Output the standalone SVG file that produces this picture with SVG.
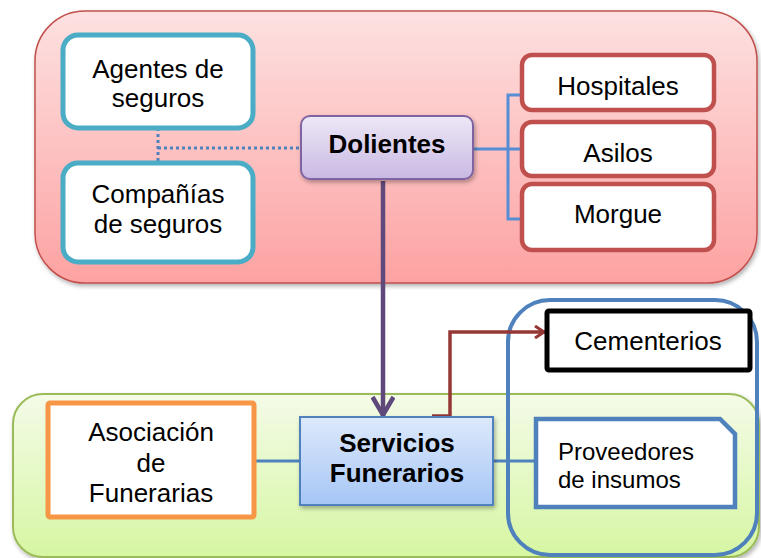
<svg xmlns="http://www.w3.org/2000/svg" width="761" height="558" viewBox="0 0 761 558">
<defs>
  <linearGradient id="gRed" x1="0" y1="0" x2="0" y2="1">
    <stop offset="0" stop-color="#fde1e1"/>
    <stop offset="1" stop-color="#fda2a2"/>
  </linearGradient>
  <linearGradient id="gGreen" x1="0" y1="0" x2="0" y2="1">
    <stop offset="0" stop-color="#f4fbe8"/>
    <stop offset="1" stop-color="#d6f6a2"/>
  </linearGradient>
  <linearGradient id="gPurple" x1="0" y1="0" x2="0" y2="1">
    <stop offset="0" stop-color="#ede8f6"/>
    <stop offset="1" stop-color="#c9b9e3"/>
  </linearGradient>
  <linearGradient id="gBlue" x1="0" y1="0" x2="0" y2="1">
    <stop offset="0" stop-color="#dde9fb"/>
    <stop offset="1" stop-color="#a6c6f6"/>
  </linearGradient>
  <filter id="shadow" x="-10%" y="-10%" width="130%" height="130%">
    <feDropShadow dx="1.5" dy="2.5" stdDeviation="2" flood-color="#000" flood-opacity="0.3"/>
  </filter>
  <marker id="arrRed" viewBox="0 0 12 14" refX="11" refY="7" markerWidth="12" markerHeight="14" markerUnits="userSpaceOnUse" orient="auto">
    <polyline points="1,1 10,7 1,13" fill="none" stroke="#953735" stroke-width="3"/>
  </marker>
  <marker id="arrPurple" viewBox="0 0 22 24" refX="21" refY="12" markerWidth="22" markerHeight="24" markerUnits="userSpaceOnUse" orient="auto">
    <polyline points="2,1.5 20,12 2,22.5" fill="none" stroke="#5f497a" stroke-width="4.5"/>
  </marker>
  <style>
    .t { font-family: "Liberation Sans", Arial, sans-serif; font-size: 26px; fill: #000; text-anchor: middle; }
    .b { font-weight: bold; }
    .teal { fill: #fff; stroke: #4bacc6; stroke-width: 5; }
    .red { fill: #fff; stroke: #c0504d; stroke-width: 4.5; }
  </style>
</defs>

<g id="containers">
  <rect id="grupo-dolientes" x="35" y="11" width="722" height="272" rx="50" fill="url(#gRed)" stroke="#c0504d" stroke-width="1.5" filter="url(#shadow)"/>
  <rect id="grupo-servicios" x="13" y="394" width="746" height="163" rx="30" fill="url(#gGreen)" stroke="#9bbb59" stroke-width="2" filter="url(#shadow)"/>
  <rect id="grupo-externos" x="508" y="300" width="249" height="255" rx="42" fill="none" stroke="#4f81bd" stroke-width="4"/>
</g>

<g id="connectors" fill="none">
  <path d="M158,128 V163 M158,148 H300" stroke="#4f81bd" stroke-width="3" stroke-dasharray="3,3"/>
  <path d="M473,149 H522 M508,149 V95 H522 M508,149 V219 H533" stroke="#558ed5" stroke-width="3"/>
  <path d="M383,181 V416" stroke="#5f497a" stroke-width="4.5" marker-end="url(#arrPurple)"/>
  <path d="M432,416 H450 V332 H545" stroke="#953735" stroke-width="3.5" marker-end="url(#arrRed)"/>
  <path d="M254,461 H300" stroke="#4f81bd" stroke-width="3"/>
  <path d="M493,461 H536" stroke="#4f81bd" stroke-width="3"/>
</g>

<g id="agentes">
  <rect class="teal" x="63" y="35" width="190" height="93" rx="15"/>
  <text class="t" x="158" y="78">Agentes de</text>
  <text class="t" x="158" y="107">seguros</text>
</g>
<g id="companias">
  <rect class="teal" x="63" y="163" width="190" height="99" rx="15"/>
  <text class="t" x="158" y="203">Compañías</text>
  <text class="t" x="158" y="233">de seguros</text>
</g>
<g id="dolientes">
  <rect x="301" y="116" width="172" height="63" rx="9" fill="url(#gPurple)" stroke="#8064a2" stroke-width="2" filter="url(#shadow)"/>
  <text class="t b" x="387" y="153">Dolientes</text>
</g>
<g id="hospitales">
  <rect class="red" x="522" y="55" width="192" height="55" rx="10"/>
  <text class="t" x="618" y="95">Hospitales</text>
</g>
<g id="asilos">
  <rect class="red" x="522" y="122" width="192" height="54" rx="10"/>
  <text class="t" x="618" y="162">Asilos</text>
</g>
<g id="morgue">
  <rect class="red" x="522" y="184" width="192" height="66" rx="10"/>
  <text class="t" x="618" y="223">Morgue</text>
</g>
<g id="cementerios">
  <rect x="547" y="311" width="203" height="59" rx="2" fill="#fff" stroke="#000" stroke-width="5"/>
  <text class="t" x="648" y="350">Cementerios</text>
</g>
<g id="asociacion">
  <rect x="48" y="403" width="206" height="114" rx="2" fill="#fff" stroke="#f79646" stroke-width="5"/>
  <text class="t" x="151" y="441">Asociación</text>
  <text class="t" x="151" y="472">de</text>
  <text class="t" x="151" y="502">Funerarias</text>
</g>
<g id="servicios">
  <rect x="300" y="417" width="193" height="88" fill="url(#gBlue)" stroke="#4f81bd" stroke-width="2" filter="url(#shadow)"/>
  <text class="t b" x="397" y="452">Servicios</text>
  <text class="t b" x="397" y="482">Funerarios</text>
</g>
<g id="proveedores">
  <polygon points="536,419 720,419 735,434 735,507 536,507" fill="#fff" stroke="#4f81bd" stroke-width="4.5"/>
  <text class="t" x="558" y="460" style="text-anchor:start;font-size:24px">Proveedores</text>
  <text class="t" x="558" y="488" style="text-anchor:start;font-size:24px">de insumos</text>
</g>
</svg>
